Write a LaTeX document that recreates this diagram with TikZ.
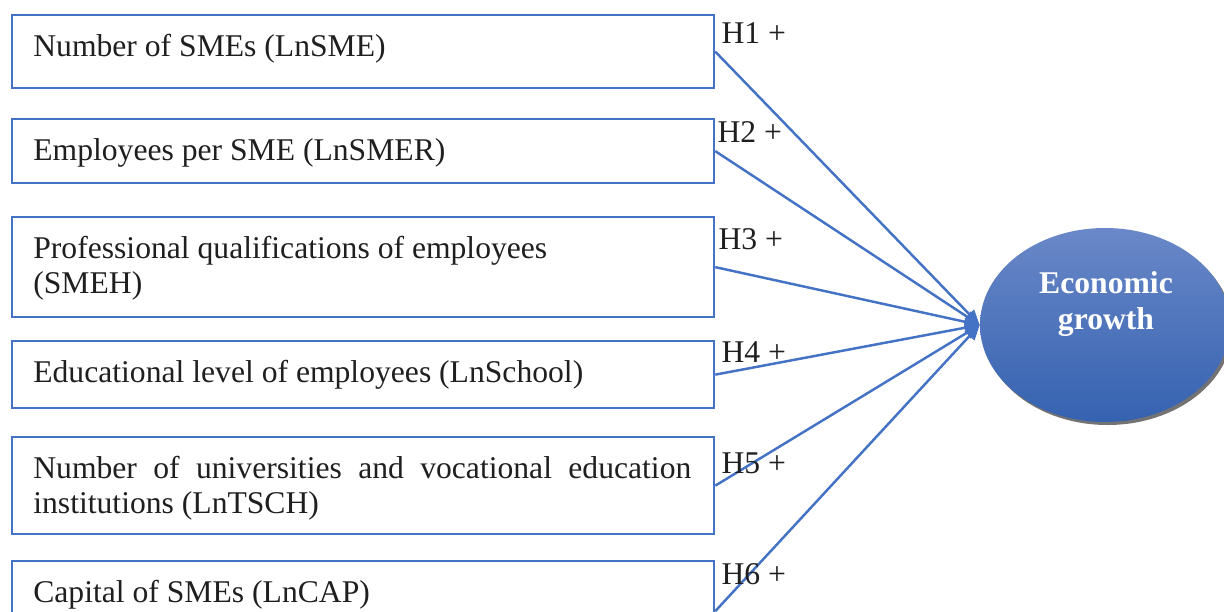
\documentclass[tikz,border=0pt]{standalone}
\usepackage{fontspec}
\setmainfont{Liberation Serif}
\usepackage{tikz}
\usetikzlibrary{arrows.meta, shapes.geometric, shadows, calc}

\definecolor{lineblue}{HTML}{4472C4}
\definecolor{goaltop}{HTML}{6A88C8}
\definecolor{goalbot}{HTML}{3562B0}

\tikzset{
    varbox/.style={draw=lineblue, line width=1.3pt, rectangle, inner sep=0pt,
        minimum width=14.04cm, anchor=north west},
    vartext/.style={anchor=north west, inner sep=0pt, text width=13.16cm, align=flush left,
        font=\fontsize{18}{20}\selectfont, text=black!88},
    hyp/.style={anchor=base west, inner sep=0pt, font=\fontsize{18}{20}\selectfont, text=black!88},
    effect/.style={draw=lineblue, line width=1.4pt, -{Triangle[length=0.3cm, width=0.26cm]}},
    goal/.style={ellipse, minimum width=5cm, minimum height=3.88cm, inner sep=0pt,
        top color=goaltop, bottom color=goalbot,
        drop shadow={shadow xshift=0.05cm, shadow yshift=-0.06cm, fill=black!55, opacity=1}},
    goaltext/.style={align=center, inner sep=0pt, text=white,
        font=\fontsize{18}{21}\selectfont\bfseries}
}

\begin{document}
\begin{tikzpicture}

            \useasboundingbox (0,0) rectangle (24.48,-12.24);

            % Các ô biến độc lập
            \node[varbox, minimum height=1.46cm] (sme) at (0.22,-0.28) {};
            \node[varbox, minimum height=1.28cm] (smer) at (0.22,-2.36) {};
            \node[varbox, minimum height=2.0cm] (smeh) at (0.22,-4.32) {};
            \node[varbox, minimum height=1.34cm] (school) at (0.22,-6.8) {};
            \node[varbox, minimum height=1.94cm] (tsch) at (0.22,-8.72) {};
            \node[varbox, minimum height=2.0cm] (cap) at (0.22,-11.2) {};

            % Chữ trong các ô
            \node[vartext] (sme-t) at ([xshift=0.44cm, yshift=-0.39cm]sme.north west) {Number of SMEs (LnSME)};
            \node[vartext] (smer-t) at ([xshift=0.44cm, yshift=-0.41cm]smer.north west) {Employees per SME (LnSMER)};
            \node[vartext] (smeh-t) at ([xshift=0.44cm, yshift=-0.39cm]smeh.north west) {Professional qualifications of employees\\(SMEH)};
            \node[vartext] (school-t) at ([xshift=0.44cm, yshift=-0.39cm]school.north west) {Educational level of employees (LnSchool)};
            \node[vartext, align=justify] (tsch-t) at ([xshift=0.44cm, yshift=-0.39cm]tsch.north west) {Number of universities and vocational education\linebreak institutions (LnTSCH)};
            \node[vartext] (cap-t) at ([xshift=0.44cm, yshift=-0.39cm]cap.north west) {Capital of SMEs (LnCAP)};

            % Vẽ hình elip
            \node[goal] (growth) at (22.1,-6.5) {};
            \node[goaltext] (growth-t) at (22.12,-6.08) {Economic\\growth};

            % Vẽ các mũi tên
            \draw[effect] (sme.east) -- (growth.west);
            \draw[effect] (smer.east) -- (growth.west);
            \draw[effect] (smeh.east) -- (growth.west);
            \draw[effect] (school.east) -- (growth.west);
            \draw[effect] (tsch.east) -- (growth.west);
            \draw[effect] (cap.east) -- (growth.west);

            % Các giả thuyết
            \node[hyp] (h1) at ([xshift=0.12cm, yshift=-0.6cm]sme.north east) {H1 +};
            \node[hyp] (h2) at ([xshift=0.04cm, yshift=-0.48cm]smer.north east) {H2 +};
            \node[hyp] (h3) at ([xshift=0.06cm, yshift=-0.66cm]smeh.north east) {H3 +};
            \node[hyp] (h4) at ([xshift=0.12cm, yshift=-0.44cm]school.north east) {H4 +};
            \node[hyp] (h5) at ([xshift=0.12cm, yshift=-0.74cm]tsch.north east) {H5 +};
            \node[hyp] (h6) at ([xshift=0.12cm, yshift=-0.48cm]cap.north east) {H6 +};

\end{tikzpicture}
\end{document}
